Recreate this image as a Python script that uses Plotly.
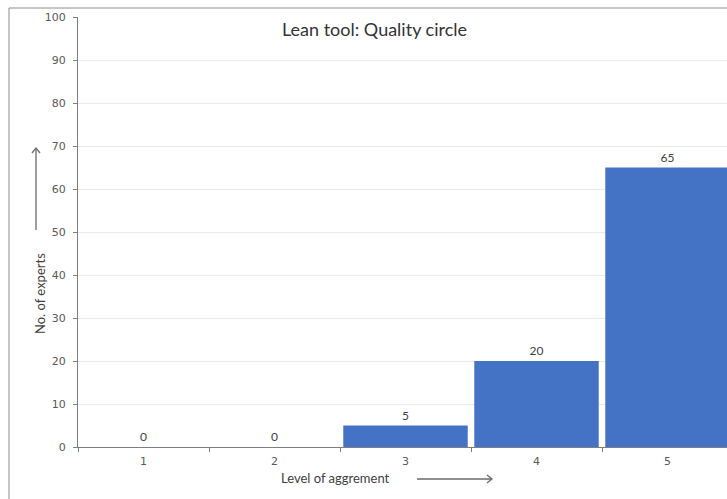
import plotly.graph_objects as go

# Survey result: how strongly experts agree on the quality-circle lean tool
levels = ["1", "2", "3", "4", "5"]
experts = [0, 0, 5, 20, 65]

W, H = 727, 499
ML, MR, MT, MB = 78, 0, 17, 52
plot_w = W - ML - MR
plot_h = H - MT - MB
band_px = 131  # width of one category band in pixels


def px_x(p):
    return (p - ML) / plot_w


def px_y(p):
    return (H - MB - p) / plot_h


fig = go.Figure()
fig.add_trace(go.Bar(
    x=levels,
    y=experts,
    marker=dict(color="#4472C4", line=dict(width=0)),
    text=[str(v) for v in experts],
    textposition="outside",
    textfont=dict(family="Lato", size=12, color="#404040"),
    cliponaxis=False,
    width=0.95,
))

grey = "#595959"
line_grey = "#7f7f7f"

fig.update_layout(
    width=W, height=H,
    margin=dict(l=ML, r=MR, t=MT, b=MB),
    paper_bgcolor="white",
    plot_bgcolor="white",
    showlegend=False,
    xaxis=dict(
        type="category",
        range=[-0.5, -0.5 + plot_w / band_px],
        tickson="boundaries",
        ticks="outside", ticklen=4, tickcolor=line_grey,
        showline=True, linecolor=line_grey, linewidth=1,
        showgrid=False, zeroline=False,
        ticklabelstandoff=4,
        tickfont=dict(family="DejaVu Sans", size=11, color=grey),
    ),
    yaxis=dict(
        range=[0, 100], dtick=10,
        ticks="outside", ticklen=4, tickcolor=line_grey,
        showline=True, linecolor=line_grey, linewidth=1,
        showgrid=True, gridcolor="#ebebeb", gridwidth=1,
        zeroline=False,
        ticklabelstandoff=5,
        tickfont=dict(family="DejaVu Sans", size=11, color=grey),
    ),
)

annotations = [
    dict(text="Lean tool: Quality circle", x=px_x(374), y=px_y(29),
         xref="paper", yref="paper", showarrow=False,
         xanchor="center", yanchor="middle",
         font=dict(family="Lato", size=18, color="#333333")),
    dict(text="Level of aggrement", x=px_x(335), y=px_y(478),
         xref="paper", yref="paper", showarrow=False,
         xanchor="center", yanchor="middle",
         font=dict(family="Lato", size=13, color="#404040")),
    dict(text="No. of experts", x=px_x(40), y=px_y(294), textangle=-90,
         xref="paper", yref="paper", showarrow=False,
         xanchor="center", yanchor="middle",
         font=dict(family="Lato", size=13, color="#404040")),
]
fig.update_layout(annotations=annotations)

shapes = []
# outer chart frame
shapes.append(dict(type="rect", xref="paper", yref="paper",
                   x0=px_x(9), y0=px_y(8), x1=px_x(760), y1=px_y(530),
                   line=dict(color="#8c8c8c", width=1), fillcolor="rgba(0,0,0,0)",
                   layer="below"))


def arrow(x0, y0, x1, y1, head=5):
    # line from (x0,y0) to (x1,y1) in pixels with an open chevron at the end
    shapes.append(dict(type="line", xref="paper", yref="paper",
                       x0=px_x(x0), y0=px_y(y0), x1=px_x(x1), y1=px_y(y1),
                       line=dict(color="#6b6b6b", width=1.3)))
    if y0 == y1:
        pts = [(x1 - head, y1 - head * 0.8), (x1, y1), (x1 - head, y1 + head * 0.8)]
    else:
        pts = [(x1 - head * 0.8, y1 + head), (x1, y1), (x1 + head * 0.8, y1 + head)]
    path = "M {} {} L {} {} L {} {}".format(
        *[v for p in pts for v in (px_x(p[0]), px_y(p[1]))])
    shapes.append(dict(type="path", xref="paper", yref="paper", path=path,
                       line=dict(color="#6b6b6b", width=1.3)))


arrow(417, 479, 492, 479)
arrow(36, 230, 36, 148)
fig.update_layout(shapes=shapes)

fig.write_html("out.html")
